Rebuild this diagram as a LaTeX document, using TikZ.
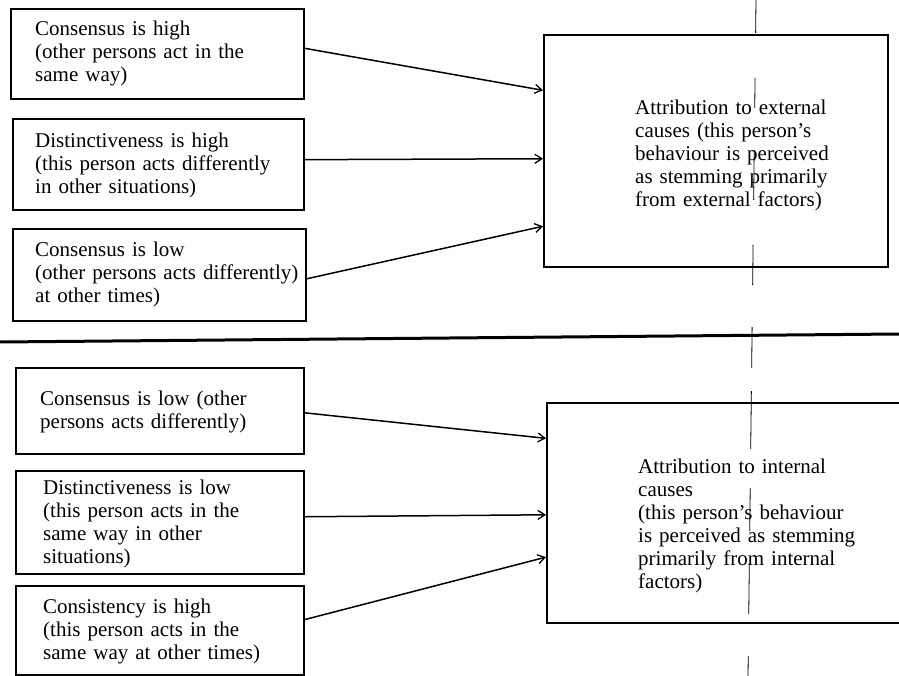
\documentclass[tikz,border=0pt]{standalone}
\usepackage{fontspec}
\setmainfont{Liberation Serif}
\usetikzlibrary{arrows.meta,calc}
\begin{document}
\begin{tikzpicture}[x=1pt,y=-1pt,
  box/.style={draw, line width=1.6pt, inner sep=0pt, anchor=north west},
  txt/.style={anchor=base west, inner sep=0pt, text width=320pt, align=left,
              font=\fontsize{21}{23}\selectfont},
  link/.style={line width=1.5pt, -{Straight Barb[length=7pt,width=9pt,line width=1.3pt]}},
  crease/.style={line width=0.8pt},
  rule/.style={line width=3pt}
]
\useasboundingbox (0,0) rectangle (899,676);
\clip (0,0) rectangle (899,676);

% upper group: conditions leading to external attribution
\node[box, minimum width=293pt, minimum height=90pt] (c1) at (10,8) {};
\node[box, minimum width=291pt, minimum height=91pt] (c2) at (12,118) {};
\node[box, minimum width=293pt, minimum height=92pt] (c3) at (12,228) {};
\node[box, minimum width=344pt, minimum height=232pt] (ext) at (543,34) {};

\node[txt] (c1t) at (35,36) {Consensus is high\\(other persons act in the\\same way)};
\node[txt] (c2t) at (35,148) {Distinctiveness is high\\(this person acts differently\\in other situations)};
\node[txt] (c3t) at (35,257) {Consensus is low\\(other persons acts differently)\\at other times)};
\node[txt] (extt) at (635,115) {Attribution to external\\causes (this person's\\behaviour is perceived\\as stemming primarily\\from external factors)};

\draw[link] ($(c1.north east)!.44!(c1.south east)$) -- ($(ext.north west)!.241!(ext.south west)$);
\draw[link] ($(c2.north east)!.45!(c2.south east)$) -- ($(ext.north west)!.534!(ext.south west)$);
\draw[link] ($(c3.north east)!.543!(c3.south east)$) -- ($(ext.north west)!.823!(ext.south west)$);

% dividing rule
\draw[rule] (0,342) -- (899,334);

% lower group: conditions leading to internal attribution
\node[box, minimum width=288pt, minimum height=86pt] (c4) at (15,367) {};
\node[box, minimum width=288pt, minimum height=103pt] (c5) at (15,470) {};
\node[box, minimum width=288pt, minimum height=89pt] (c6) at (15,585) {};
\node[box, minimum width=360pt, minimum height=220pt] (int) at (546,402) {};

\node[txt] (c4t) at (40,405) {Consensus is low (other\\persons acts differently)};
\node[txt] (c5t) at (43,494) {Distinctiveness is low\\(this person acts in the\\same way in other\\situations)};
\node[txt] (c6t) at (43,613) {Consistency is high\\(this person acts in the\\same way at other times)};
\node[txt] (intt) at (638,473) {Attribution to internal\\causes\\(this person's behaviour\\is perceived as stemming\\primarily from internal\\factors)};

\draw[link] ($(c4.north east)!.523!(c4.south east)$) -- ($(int.north west)!.164!(int.south west)$);
\draw[link] ($(c5.north east)!.447!(c5.south east)$) -- ($(int.north west)!.509!(int.south west)$);
\draw[link] ($(c6.north east)!.382!(c6.south east)$) -- ($(int.north west)!.70!(int.south west)$);

% thin broken vertical crease running down the page
\foreach \a/\b in {0/33, 78/108, 150/200, 245/285, 327/368, 391/449, 488/531, 563/614, 656/676}
  \draw[crease] ({756-8*\a/676},\a) -- ({756-8*\b/676},\b);
\end{tikzpicture}
\end{document}
